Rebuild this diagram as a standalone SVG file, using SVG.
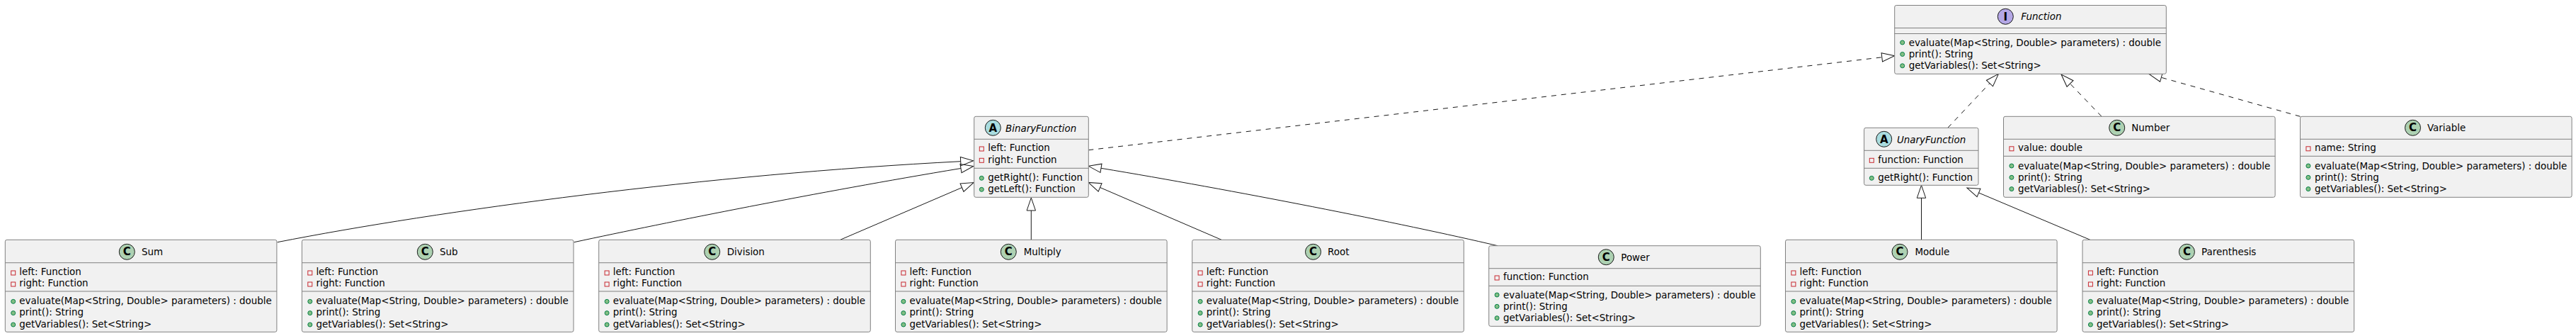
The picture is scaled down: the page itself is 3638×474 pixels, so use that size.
<svg xmlns="http://www.w3.org/2000/svg" width="3638" height="474" viewBox="0 0 3638 474">
<style>
text{font-family:"DejaVu Sans",sans-serif;font-size:13.42px;fill:#000}
.i{font-style:italic}
.b{fill:#F1F1F1;stroke:#808080;stroke-width:1}
.l{stroke:#808080;stroke-width:1;fill:none}
.p{fill:none;stroke:#C82930;stroke-width:1}
.m{fill:#84BE84;stroke:#038048;stroke-width:1}
.c{stroke:#181818;stroke-width:1}
.g{font-weight:bold;font-size:15px;text-anchor:middle}
.e{fill:none;stroke:#181818;stroke-width:1}
.d{stroke-dasharray:7 7}
</style>
<defs>
<marker id="h" markerUnits="userSpaceOnUse" markerWidth="22" markerHeight="18" viewBox="-1 -9 22 18" refX="0" refY="0" orient="auto" overflow="visible"><path d="M0 -6.2L18 0L0 6.2Z" fill="none" stroke="#181818" stroke-width="1"/></marker>
<rect id="s" class="p" x="-3" y="-3" width="6" height="6"/>
<circle id="o" class="m" r="3"/>
</defs>
<g id="connectors">
<path class="e" marker-end="url(#h)" d="M391.7 341.7C620 297 1000 246 1356.7 227.7"/>
<path class="e" marker-end="url(#h)" d="M810.7 341.7C950 312 1150 272 1357 237.5"/>
<path class="e" marker-end="url(#h)" d="M1186.7 338.3L1358.5 264.6"/>
<path class="e" marker-end="url(#h)" d="M1456.3 338.3L1456.3 297"/>
<path class="e" marker-end="url(#h)" d="M1725 338.3L1553.6 264.5"/>
<path class="e" marker-end="url(#h)" d="M2115 346.7C1980 315 1740 268 1555 237.3"/>
<path class="e d" marker-end="url(#h)" d="M1537.3 211.7L2657.8 80.8"/>
<path class="e d" marker-end="url(#h)" d="M2750.8 180.3L2810 117.5"/>
<path class="e d" marker-end="url(#h)" d="M2968 164.3L2923.5 118"/>
<path class="e d" marker-end="url(#h)" d="M3248.5 164.3L3052.3 109.3"/>
<path class="e" marker-end="url(#h)" d="M2713.5 338.3L2713.5 279.3"/>
<path class="e" marker-end="url(#h)" d="M2951.8 338.3L2794.5 272"/>
</g>
<g id="Function">
<rect class="b" x="2675.7" y="7.5" width="383.6" height="96.8" rx="2.5"/>
<path class="l" d="M2675.7 39.5H3059.3M2675.7 47.5H3059.3"/>
<circle class="c" fill="#B4A7E5" cx="2832.3" cy="23.3" r="11"/><text class="g" x="2832.3" y="28.5">I</text>
<text class="i" x="2854.3" y="28">Function</text>
<use href="#o" x="2686.7" y="60"/><text x="2695.7" y="65">evaluate(Map&lt;String, Double&gt; parameters) : double</text>
<use href="#o" x="2686.7" y="76.5"/><text x="2695.7" y="81">print(): String</text>
<use href="#o" x="2686.7" y="92.8"/><text x="2695.7" y="97.3">getVariables(): Set&lt;String&gt;</text>
</g>
<g id="BinaryFunction">
<rect class="b" x="1375.7" y="164.3" width="161.6" height="114" rx="2.5"/>
<path class="l" d="M1375.7 196.3H1537.3M1375.7 237.3H1537.3"/>
<circle class="c" fill="#A9DCDF" cx="1402.3" cy="180.3" r="11"/><text class="g" x="1402.3" y="185.5">A</text>
<text class="i" x="1420" y="186">BinaryFunction</text>
<use href="#s" x="1386.3" y="210"/><text x="1395.3" y="213.3">left: Function</text>
<use href="#s" x="1386.3" y="226.3"/><text x="1395.3" y="229.7">right: Function</text>
<use href="#o" x="1386.3" y="251.3"/><text x="1395.3" y="255">getRight(): Function</text>
<use href="#o" x="1386.3" y="267.3"/><text x="1395.3" y="271">getLeft(): Function</text>
</g>
<g id="UnaryFunction">
<rect class="b" x="2632.6" y="180.3" width="161.4" height="81" rx="2.5"/>
<path class="l" d="M2632.6 212.3H2794M2632.6 237.3H2794"/>
<circle class="c" fill="#A9DCDF" cx="2660.7" cy="196.3" r="11"/><text class="g" x="2660.7" y="201.5">A</text>
<text class="i" x="2679" y="202">UnaryFunction</text>
<use href="#s" x="2643.3" y="226.3"/><text x="2652.3" y="230">function: Function</text>
<use href="#o" x="2643.3" y="251.3"/><text x="2652.3" y="255">getRight(): Function</text>
</g>
<g id="Number" transform="translate(2829.5 164.3)">
<rect class="b" width="383.6" height="114" rx="2.5"/>
<path class="l" d="M0 32H383.6M0 56H383.6"/>
<circle class="c" fill="#ADD1B2" cx="160.2" cy="16" r="11"/><text class="g" x="160.2" y="21.2">C</text>
<text x="180.8" y="21">Number</text>
<use href="#s" x="11.4" y="45.5"/><text x="20.4" y="49">value: double</text>
<use href="#o" x="11.4" y="69.7"/><text x="20.4" y="74.4">evaluate(Map&lt;String, Double&gt; parameters) : double</text>
<use href="#o" x="11.4" y="86"/><text x="20.4" y="90.7">print(): String</text>
<use href="#o" x="11.4" y="102.3"/><text x="20.4" y="107">getVariables(): Set&lt;String&gt;</text>
</g>
<g id="Variable" transform="translate(3248.5 164.3)">
<rect class="b" width="383.6" height="114" rx="2.5"/>
<path class="l" d="M0 32H383.6M0 56H383.6"/>
<circle class="c" fill="#ADD1B2" cx="159" cy="16" r="11"/><text class="g" x="159" y="21.2">C</text>
<text x="179.4" y="21">Variable</text>
<use href="#s" x="11.4" y="45.5"/><text x="20.4" y="49">name: String</text>
<use href="#o" x="11.4" y="69.7"/><text x="20.4" y="74.4">evaluate(Map&lt;String, Double&gt; parameters) : double</text>
<use href="#o" x="11.4" y="86"/><text x="20.4" y="90.7">print(): String</text>
<use href="#o" x="11.4" y="102.3"/><text x="20.4" y="107">getVariables(): Set&lt;String&gt;</text>
</g>
<g id="Power" transform="translate(2102.7 346.7)">
<rect class="b" width="383.6" height="113.6" rx="2.5"/>
<path class="l" d="M0 32H383.6M0 56.6H383.6"/>
<circle class="c" fill="#ADD1B2" cx="165.6" cy="16" r="11"/><text class="g" x="165.6" y="21.2">C</text>
<text x="186.6" y="21">Power</text>
<use href="#s" x="11.4" y="45.3"/><text x="20.4" y="48.6">function: Function</text>
<use href="#o" x="11.4" y="69.3"/><text x="20.4" y="74">evaluate(Map&lt;String, Double&gt; parameters) : double</text>
<use href="#o" x="11.4" y="85.6"/><text x="20.4" y="90.3">print(): String</text>
<use href="#o" x="11.4" y="102"/><text x="20.4" y="106.7">getVariables(): Set&lt;String&gt;</text>
</g>
<g id="Sum" transform="translate(7.3 338.3)">
<rect class="b" width="383.6" height="130" rx="2.5"/>
<path class="l" d="M0 32.4H383.6M0 72.7H383.6"/>
<circle class="c" fill="#ADD1B2" cx="172" cy="17" r="11"/><text class="g" x="172" y="22.2">C</text>
<text x="192.7" y="22">Sum</text>
<use href="#s" x="11.4" y="46.7"/><text x="20" y="50">left: Function</text>
<use href="#s" x="11.4" y="62.7"/><text x="20" y="66">right: Function</text>
<use href="#o" x="11.4" y="87"/><text x="20" y="90.7">evaluate(Map&lt;String, Double&gt; parameters) : double</text>
<use href="#o" x="11.4" y="103.3"/><text x="20" y="107">print(): String</text>
<use href="#o" x="11.4" y="119.7"/><text x="20" y="123.4">getVariables(): Set&lt;String&gt;</text>
</g>
<g id="Sub" transform="translate(426.4 338.3)">
<rect class="b" width="383.6" height="130" rx="2.5"/>
<path class="l" d="M0 32.4H383.6M0 72.7H383.6"/>
<circle class="c" fill="#ADD1B2" cx="173.9" cy="17" r="11"/><text class="g" x="173.9" y="22.2">C</text>
<text x="194.6" y="22">Sub</text>
<use href="#s" x="11.4" y="46.7"/><text x="20" y="50">left: Function</text>
<use href="#s" x="11.4" y="62.7"/><text x="20" y="66">right: Function</text>
<use href="#o" x="11.4" y="87"/><text x="20" y="90.7">evaluate(Map&lt;String, Double&gt; parameters) : double</text>
<use href="#o" x="11.4" y="103.3"/><text x="20" y="107">print(): String</text>
<use href="#o" x="11.4" y="119.7"/><text x="20" y="123.4">getVariables(): Set&lt;String&gt;</text>
</g>
<g id="Division" transform="translate(845.7 338.3)">
<rect class="b" width="383.6" height="130" rx="2.5"/>
<path class="l" d="M0 32.4H383.6M0 72.7H383.6"/>
<circle class="c" fill="#ADD1B2" cx="160" cy="17" r="11"/><text class="g" x="160" y="22.2">C</text>
<text x="181" y="22">Division</text>
<use href="#s" x="11.4" y="46.7"/><text x="20" y="50">left: Function</text>
<use href="#s" x="11.4" y="62.7"/><text x="20" y="66">right: Function</text>
<use href="#o" x="11.4" y="87"/><text x="20" y="90.7">evaluate(Map&lt;String, Double&gt; parameters) : double</text>
<use href="#o" x="11.4" y="103.3"/><text x="20" y="107">print(): String</text>
<use href="#o" x="11.4" y="119.7"/><text x="20" y="123.4">getVariables(): Set&lt;String&gt;</text>
</g>
<g id="Multiply" transform="translate(1264.5 338.3)">
<rect class="b" width="383.6" height="130" rx="2.5"/>
<path class="l" d="M0 32.4H383.6M0 72.7H383.6"/>
<circle class="c" fill="#ADD1B2" cx="159.8" cy="17" r="11"/><text class="g" x="159.8" y="22.2">C</text>
<text x="181.2" y="22">Multiply</text>
<use href="#s" x="11.4" y="46.7"/><text x="20" y="50">left: Function</text>
<use href="#s" x="11.4" y="62.7"/><text x="20" y="66">right: Function</text>
<use href="#o" x="11.4" y="87"/><text x="20" y="90.7">evaluate(Map&lt;String, Double&gt; parameters) : double</text>
<use href="#o" x="11.4" y="103.3"/><text x="20" y="107">print(): String</text>
<use href="#o" x="11.4" y="119.7"/><text x="20" y="123.4">getVariables(): Set&lt;String&gt;</text>
</g>
<g id="Root" transform="translate(1683.7 338.3)">
<rect class="b" width="383.6" height="130" rx="2.5"/>
<path class="l" d="M0 32.4H383.6M0 72.7H383.6"/>
<circle class="c" fill="#ADD1B2" cx="170.8" cy="17" r="11"/><text class="g" x="170.8" y="22.2">C</text>
<text x="191.4" y="22">Root</text>
<use href="#s" x="11.4" y="46.7"/><text x="20" y="50">left: Function</text>
<use href="#s" x="11.4" y="62.7"/><text x="20" y="66">right: Function</text>
<use href="#o" x="11.4" y="87"/><text x="20" y="90.7">evaluate(Map&lt;String, Double&gt; parameters) : double</text>
<use href="#o" x="11.4" y="103.3"/><text x="20" y="107">print(): String</text>
<use href="#o" x="11.4" y="119.7"/><text x="20" y="123.4">getVariables(): Set&lt;String&gt;</text>
</g>
<g id="Module" transform="translate(2521.5 338.3)">
<rect class="b" width="383.6" height="130" rx="2.5"/>
<path class="l" d="M0 32.4H383.6M0 72.7H383.6"/>
<circle class="c" fill="#ADD1B2" cx="161.5" cy="17" r="11"/><text class="g" x="161.5" y="22.2">C</text>
<text x="182.9" y="22">Module</text>
<use href="#s" x="11.4" y="46.7"/><text x="20" y="50">left: Function</text>
<use href="#s" x="11.4" y="62.7"/><text x="20" y="66">right: Function</text>
<use href="#o" x="11.4" y="87"/><text x="20" y="90.7">evaluate(Map&lt;String, Double&gt; parameters) : double</text>
<use href="#o" x="11.4" y="103.3"/><text x="20" y="107">print(): String</text>
<use href="#o" x="11.4" y="119.7"/><text x="20" y="123.4">getVariables(): Set&lt;String&gt;</text>
</g>
<g id="Parenthesis" transform="translate(2941 338.3)">
<rect class="b" width="383.6" height="130" rx="2.5"/>
<path class="l" d="M0 32.4H383.6M0 72.7H383.6"/>
<circle class="c" fill="#ADD1B2" cx="147.4" cy="17" r="11"/><text class="g" x="147.4" y="22.2">C</text>
<text x="168" y="22">Parenthesis</text>
<use href="#s" x="11.4" y="46.7"/><text x="20" y="50">left: Function</text>
<use href="#s" x="11.4" y="62.7"/><text x="20" y="66">right: Function</text>
<use href="#o" x="11.4" y="87"/><text x="20" y="90.7">evaluate(Map&lt;String, Double&gt; parameters) : double</text>
<use href="#o" x="11.4" y="103.3"/><text x="20" y="107">print(): String</text>
<use href="#o" x="11.4" y="119.7"/><text x="20" y="123.4">getVariables(): Set&lt;String&gt;</text>
</g>
</svg>
